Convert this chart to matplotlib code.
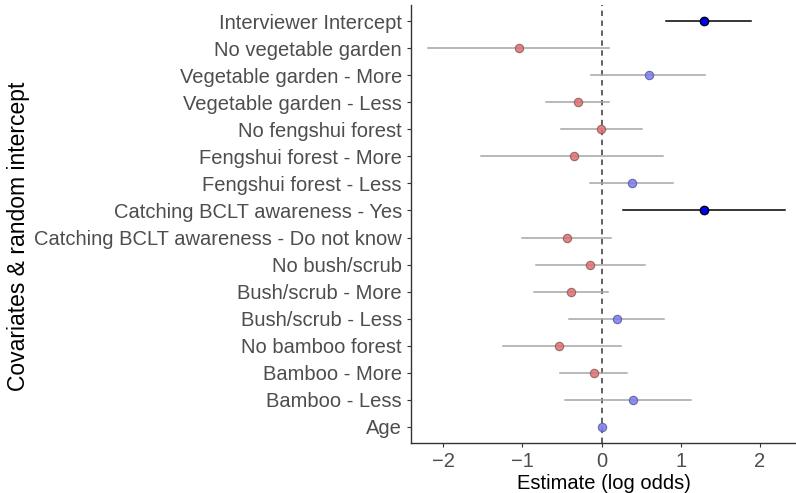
import numpy as np
import matplotlib
matplotlib.use('Agg')
from matplotlib import pyplot as plt

# rows from bottom to top
labels = ['Age', 'Bamboo - Less', 'Bamboo - More', 'No bamboo forest',
          'Bush/scrub - Less', 'Bush/scrub - More', 'No bush/scrub',
          'Catching BCLT awareness - Do not know', 'Catching BCLT awareness - Yes',
          'Fengshui forest - Less', 'Fengshui forest - More', 'No fengshui forest',
          'Vegetable garden - Less', 'Vegetable garden - More', 'No vegetable garden',
          'Interviewer Intercept']
estimate = [0.01, 0.40, -0.09, -0.54, 0.19, -0.39, -0.15, -0.44, 1.29,
            0.38, -0.35, -0.01, -0.30, 0.60, -1.04, 1.30]
lower = [0.00, -0.46, -0.52, -1.25, -0.41, -0.86, -0.83, -1.00, 0.27,
         -0.14, -1.52, -0.51, -0.70, -0.13, -2.19, 0.82]
upper = [0.02, 1.13, 0.32, 0.25, 0.79, 0.08, 0.55, 0.12, 2.32,
         0.90, 0.78, 0.51, 0.10, 1.31, 0.09, 1.89]
significant = [False, False, False, False, False, False, False, False, True,
               False, False, False, False, False, False, True]

plt.rcParams['font.family'] = ['Liberation Sans', 'DejaVu Sans']

fig = plt.figure(figsize=(7.96, 4.93), dpi=100)
ax = fig.add_axes([411 / 796, 1 - 443 / 493, 385 / 796, 438 / 493])

y = np.arange(len(labels))
for i in y:
    if significant[i]:
        ax.plot([lower[i], upper[i]], [i, i], color='black', lw=1.1, zorder=2)
        ax.scatter(estimate[i], i, s=36, color='#0000ff', edgecolor='black',
                   linewidth=1.0, zorder=4)
    else:
        ax.plot([lower[i], upper[i]], [i, i], color='#a6a6a6', lw=1.1, zorder=2)
        if estimate[i] < 0:
            col, edge = '#e07070', '#8a5a5a'
        else:
            col, edge = '#7b7bee', '#5a5a9a'
        ax.scatter(estimate[i], i, s=36, color=col, edgecolor=edge,
                   linewidth=0.8, alpha=0.85, zorder=3)

ax.axvline(0, color='#555555', lw=1.3, ls=(0, (3, 2.5)), zorder=1)

ax.set_xlim(-2.41, 2.46)
ax.set_ylim(-0.6, 15.6)
ax.set_yticks(y)
ax.set_yticklabels(labels)
ax.set_xticks([-2, -1, 0, 1, 2])
ax.set_xticklabels(['\u22122', '\u22121', '0', '1', '2'])
ax.tick_params(axis='both', labelsize=14.5, labelcolor='#4d4d4d', color='#333333',
               length=3, width=0.8)
for side in ['top', 'right']:
    ax.spines[side].set_visible(False)
for side in ['left', 'bottom']:
    ax.spines[side].set_color('#333333')
    ax.spines[side].set_linewidth(1.0)

ax.set_xlabel('Estimate (log odds)', fontsize=14.5, color='black', labelpad=2)
fig.text(19 / 796, 1 - 236 / 493, 'Covariates & random intercept', rotation=90,
         fontsize=16.5, color='black', ha='center', va='center')

fig.savefig('out.png', dpi=100)
